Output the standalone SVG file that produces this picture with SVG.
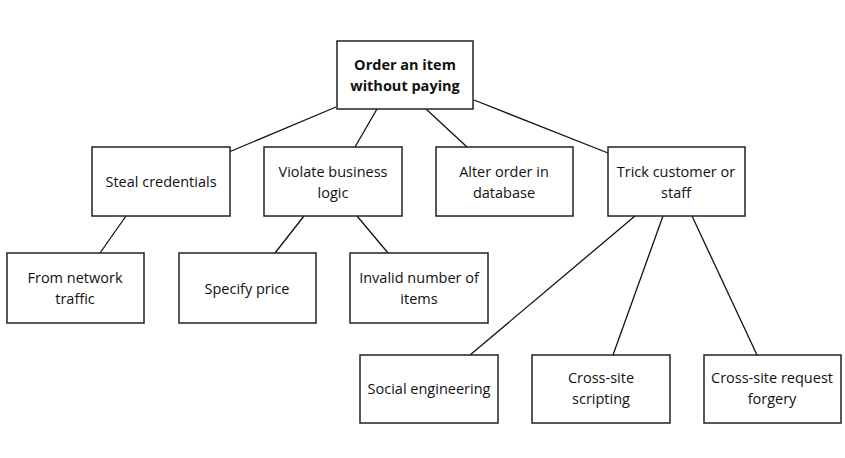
<svg xmlns="http://www.w3.org/2000/svg" width="845" height="458" viewBox="0 0 845 458">
<style>
rect{fill:#fff;stroke:#222;stroke-width:1.5}
text{font-family:"Open Sans","Noto Sans",sans-serif;font-size:14.5px;fill:#111;text-anchor:middle;dominant-baseline:central}
.b{font-weight:bold}
#edges line{stroke:#111;stroke-width:1.3}
</style>
<rect x="0" y="0" width="845" height="458" style="stroke:none"/>
<g id="edges">
<line x1="336" y1="107" x2="229" y2="152"/>
<line x1="377" y1="109" x2="355" y2="147"/>
<line x1="426" y1="109" x2="467" y2="147"/>
<line x1="474" y1="100" x2="608" y2="153"/>
<line x1="126" y1="216" x2="100" y2="253"/>
<line x1="304" y1="216" x2="275" y2="253"/>
<line x1="357" y1="216" x2="388" y2="253"/>
<line x1="635" y1="216" x2="470" y2="355"/>
<line x1="663" y1="216" x2="613" y2="355"/>
<line x1="692" y1="216" x2="757" y2="355"/>
</g>
<g id="root"><rect x="337" y="41" width="136" height="68"/><text class="b" x="405" y="64">Order an item</text><text class="b" x="405" y="85">without paying</text></g>
<g id="steal"><rect x="92" y="147" width="138" height="69"/><text x="161" y="181">Steal credentials</text></g>
<g id="violate"><rect x="264" y="147" width="138" height="69"/><text x="333" y="171">Violate business</text><text x="333" y="192">logic</text></g>
<g id="alter"><rect x="436" y="147" width="137" height="69"/><text x="504" y="171">Alter order in</text><text x="504" y="192">database</text></g>
<g id="trick"><rect x="608" y="147" width="137" height="69"/><text x="676" y="171">Trick customer or</text><text x="676" y="192">staff</text></g>
<g id="network"><rect x="7" y="253" width="137" height="70"/><text x="75" y="277">From network</text><text x="75" y="298">traffic</text></g>
<g id="price"><rect x="179" y="253" width="137" height="70"/><text x="247" y="288">Specify price</text></g>
<g id="invalid"><rect x="350" y="253" width="138" height="70"/><text x="419" y="277">Invalid number of</text><text x="419" y="298">items</text></g>
<g id="social"><rect x="360" y="355" width="138" height="68"/><text x="429" y="388">Social engineering</text></g>
<g id="xss"><rect x="532" y="355" width="138" height="68"/><text x="601" y="377">Cross-site</text><text x="601" y="398">scripting</text></g>
<g id="csrf"><rect x="704" y="355" width="137" height="68"/><text x="772" y="377">Cross-site request</text><text x="772" y="398">forgery</text></g>
</svg>
